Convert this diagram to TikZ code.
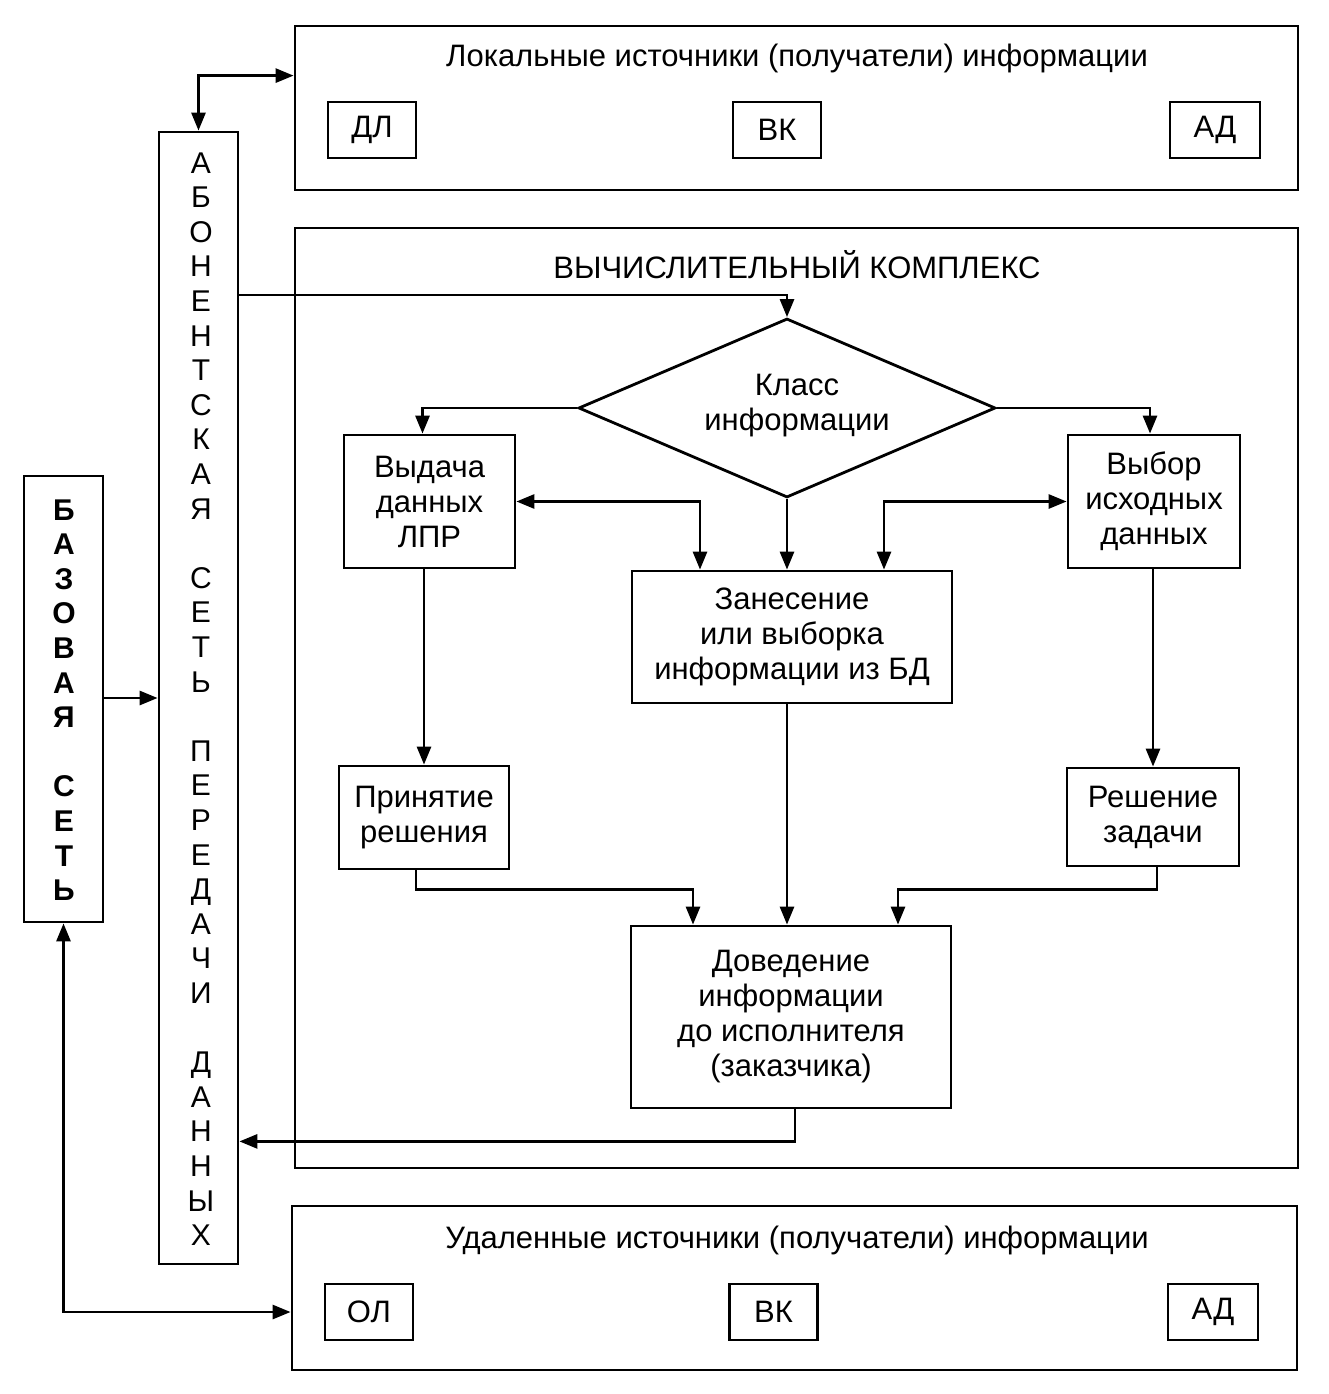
\documentclass[tikz,border=0pt]{standalone}
\usepackage{fontspec}
\setmainfont{Liberation Sans}
\usetikzlibrary{arrows.meta,shapes.geometric}
\begin{document}
\begin{tikzpicture}[x=1pt,y=-1pt,
  box/.style={draw,line width=2.8pt,inner sep=0pt,align=center,font=\fontsize{31}{35}\selectfont},
  txt/.style={inner sep=0pt,align=center,font=\fontsize{31}{35}\selectfont},
  arr/.style={line width=2.8pt,-{Triangle[length=18pt,width=14pt]}},
  darr/.style={line width=2.8pt,{Triangle[length=18pt,width=14pt]}-{Triangle[length=18pt,width=14pt]}}]
\useasboundingbox (0,0) rectangle (1328,1394);
% top group
\node[box,minimum width=1003pt,minimum height=164pt] (lok) at (796.5,108) {};
\node[txt] (lokT) at (797,58) {Локальные источники (получатели) информации};
\node[box,minimum width=88pt,minimum height=56pt] (dl) at (372,130) {ДЛ};
\node[box,minimum width=88pt,minimum height=56pt] (vk1) at (777,130) {ВК};
\node[box,minimum width=90pt,minimum height=56pt] (ad1) at (1215,130) {АД};
% computing complex
\node[box,minimum width=1003pt,minimum height=940pt] (comp) at (796.5,698) {};
\node[txt] (compT) at (797,265) {ВЫЧИСЛИТЕЛЬНЫЙ КОМПЛЕКС};
\node[box,diamond,aspect=2.33,minimum width=417pt,minimum height=179pt] (cls) at (787,408) {};
\node[txt] (clsT) at (797,406) {Класс\\информации};
\node[box,minimum width=171pt,minimum height=133pt] (vyd) at (429.5,501.5) {Выдача\\данных\\ЛПР};
\node[box,minimum width=172pt,minimum height=133pt] (vyb) at (1154,501.5) {Выбор\\исходных\\данных};
\node[box,minimum width=320pt,minimum height=132pt] (zan) at (792,637) {Занесение\\или выборка\\информации из БД};
\node[box,minimum width=170pt,minimum height=103pt] (prin) at (424,817.5) {Принятие\\решения};
\node[box,minimum width=172pt,minimum height=98pt] (resh) at (1153,817) {Решение\\задачи};
\node[box,minimum width=320pt,minimum height=182pt] (dov) at (791,1017) {Доведение\\информации\\до исполнителя\\(заказчика)};
% networks
\node[box,minimum width=79pt,minimum height=1132pt] (abon) at (198.5,698) {};
\node[txt,font=\fontsize{30}{34.6}\selectfont] (abonT) at (201,699) {А\\Б\\О\\Н\\Е\\Н\\Т\\С\\К\\А\\Я\\[34.6pt]С\\Е\\Т\\Ь\\[34.6pt]П\\Е\\Р\\Е\\Д\\А\\Ч\\И\\[34.6pt]Д\\А\\Н\\Н\\Ы\\Х};
\node[box,minimum width=79pt,minimum height=446pt] (baz) at (63.5,699) {};
\node[txt,font=\fontsize{30}{34.6}\selectfont\bfseries] (bazT) at (64,700) {Б\\А\\З\\О\\В\\А\\Я\\[34.6pt]С\\Е\\Т\\Ь};
% bottom group
\node[box,minimum width=1005pt,minimum height=164pt] (udal) at (794.5,1288) {};
\node[txt] (udalT) at (797,1240) {Удаленные источники (получатели) информации};
\node[box,minimum width=88pt,minimum height=56pt] (ol) at (369,1312) {ОЛ};
\node[box,minimum width=88pt,minimum height=56pt] (vk2) at (773.5,1312) {ВК};
\node[box,minimum width=90pt,minimum height=56pt] (ad2) at (1213,1312) {АД};
% connectors
\coordinate (c1) at (0,295);
\coordinate (c2) at (0,698);
\coordinate (c3) at (0,1312);
\draw[darr] (abon.north) -- ++(0,-55) coordinate (t2) -- (t2 -| lok.west);
\draw[arr] (c1 -| abon.east) -| (cls.north);
\draw[arr] (c2 -| baz.east) -- (c2 -| abon.west);
\draw[darr] (baz.south) |- (c3 -| udal.west);
\draw[arr] (cls.west) -| ([xshift=-7pt]vyd.north);
\draw[arr] (cls.east) -| ([xshift=-4pt]vyb.north);
\draw[arr] (cls.south) -- (cls.south |- zan.north);
\draw[darr] (vyd.east) -| ([xshift=-92pt]zan.north);
\draw[darr] (vyb.west) -| ([xshift=92pt]zan.north);
\draw[arr] (prin.north |- vyd.south) -- (prin.north);
\draw[arr] (resh.north |- vyb.south) -- (resh.north);
\draw[arr] ([xshift=-8pt]prin.south) -- ++(0,19) -| ([xshift=-98pt]dov.north);
\draw[arr] (zan.south -| cls.south) -- (dov.north -| cls.south);
\draw[arr] ([xshift=4pt]resh.south) -- ++(0,22) -| ([xshift=107pt]dov.north);
\draw[arr] ([xshift=4pt]dov.south) -- ++(0,32) coordinate (t1) -- (t1 -| abon.east);
\end{tikzpicture}
\end{document}
